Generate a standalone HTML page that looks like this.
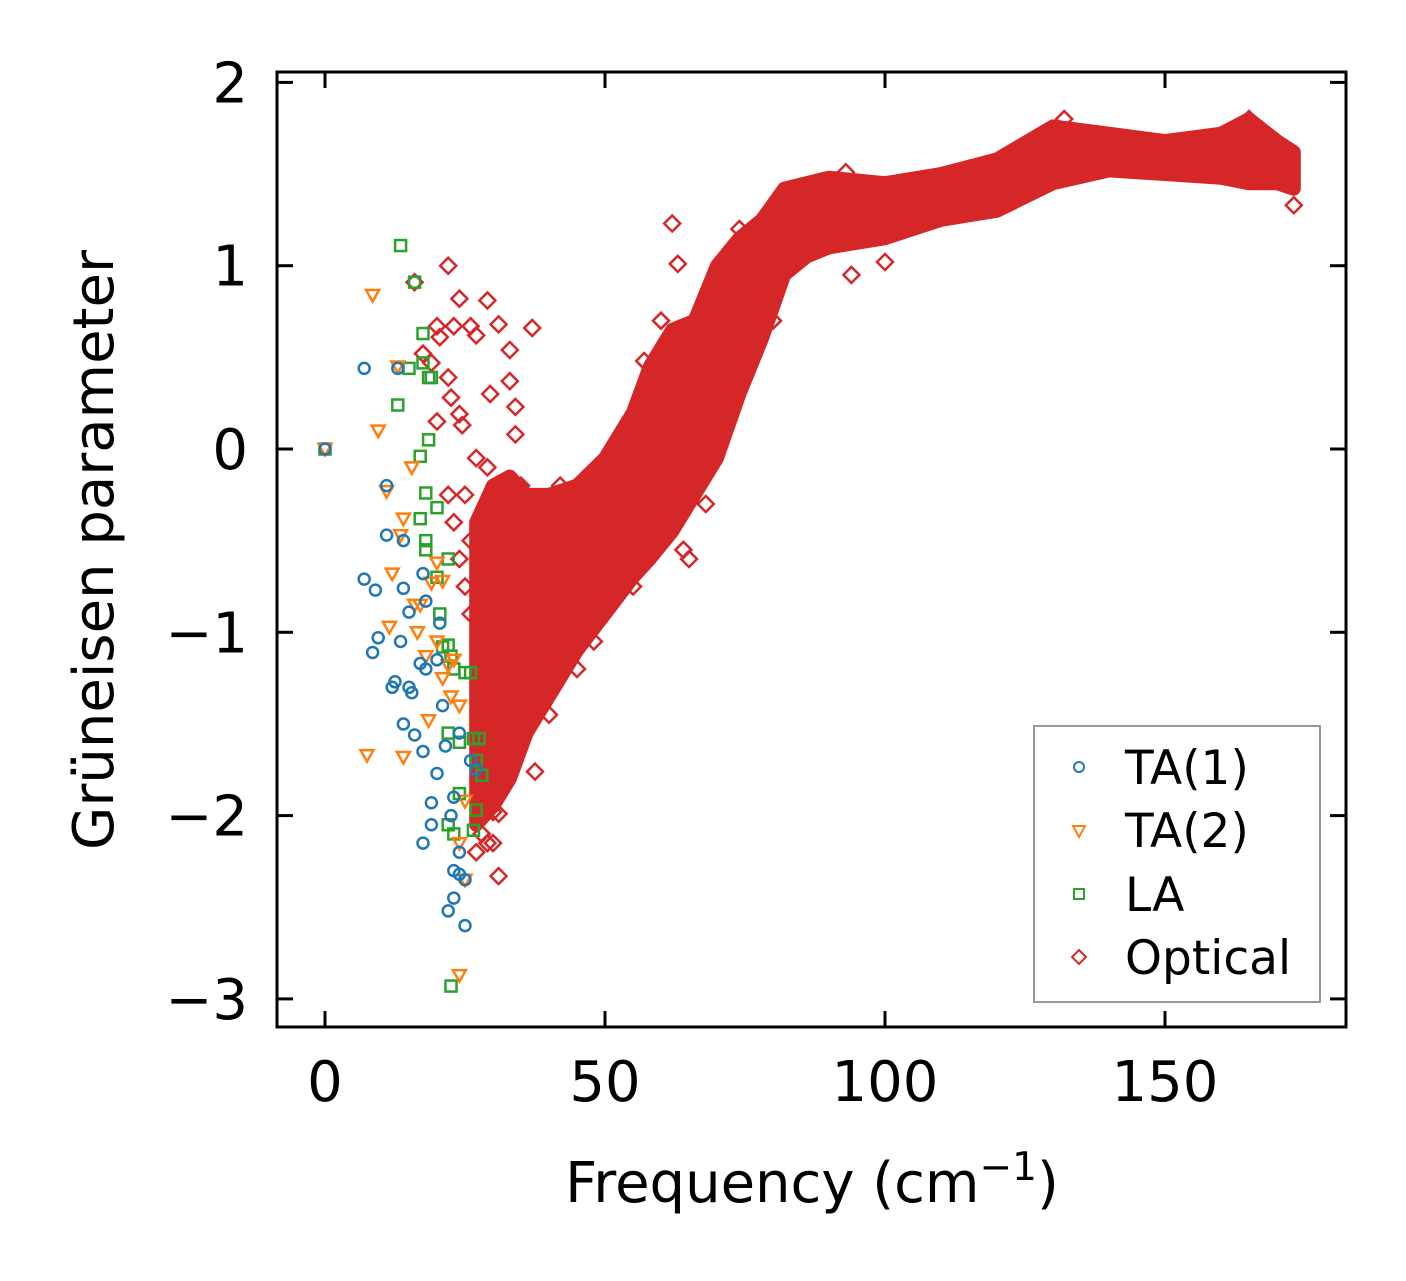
<!DOCTYPE html>
<html><head><meta charset="utf-8"><style>
body{margin:0;background:#fff;}
svg text{font-family:"DejaVu Sans","Liberation Sans",sans-serif;fill:#000;}
</style></head><body>
<svg id="chart" width="1406" height="1276" viewBox="0 0 1406 1276" xmlns="http://www.w3.org/2000/svg">
<rect width="1406" height="1276" fill="#fff"/>
<g id="marks"></g>
<rect x="277" y="72" width="1069" height="955" fill="none" stroke="#000" stroke-width="3"/>
<g id="axes"></g>
<text x="812" y="1202" font-size="56" text-anchor="middle">Frequency (cm<tspan font-size="39" dy="-22">−1</tspan><tspan dy="22">)</tspan></text>
<text transform="translate(113,550) rotate(-90)" font-size="56" text-anchor="middle">Grüneisen parameter</text>
<g>
<rect x="1034" y="726" width="286" height="276" fill="#fff" stroke="#999" stroke-width="2"/>
<circle cx="1079" cy="767" r="5" fill="none" stroke="#1f77b4" stroke-width="2"/>
<text x="1125" y="784" font-size="47">TA(1)</text>
<path d="M1073,826 L1085,826 L1079,837 Z" fill="none" stroke="#ff7f0e" stroke-width="2"/>
<text x="1125" y="847" font-size="47">TA(2)</text>
<rect x="1074" y="889" width="10" height="10" fill="none" stroke="#2ca02c" stroke-width="2"/>
<text x="1125" y="911" font-size="47">LA</text>
<path d="M1079,950 L1086,957 L1079,964 L1072,957 Z" fill="none" stroke="#d62728" stroke-width="2"/>
<text x="1125" y="974" font-size="47">Optical</text>
</g>
</svg>
<script>
const xTicks=[0,50,100,150];
const yTicks=[2,1,0,-1,-2,-3];
const yTickLabels=["2","1","0","−1","−2","−3"];
// optical dense band: frequency, lower and upper gamma envelope
const bandFreq=[27,30,33,36,40,45,50,55,58,62,66,70,74,78,82,86,90,100,110,120,130,140,150,160,165,170,173];
const bandLow=[-2.05,-1.95,-1.8,-1.55,-1.35,-1.1,-0.9,-0.7,-0.6,-0.45,-0.25,-0.05,0.3,0.6,0.95,1.05,1.1,1.15,1.25,1.3,1.45,1.52,1.5,1.48,1.45,1.45,1.42];
const bandHigh=[-0.4,-0.2,-0.15,-0.25,-0.25,-0.2,-0.05,0.2,0.45,0.65,0.7,1.0,1.15,1.25,1.42,1.45,1.48,1.45,1.5,1.58,1.76,1.72,1.68,1.72,1.8,1.68,1.62];
const opticalX=[22,24,29,16,23,26,27,31,37,20,20.5,17.5,19,22,22.5,24,24.5,20,29.5,33,33,34,34,62,63,93,100,94,31,37.5,30,31,25,27,29,35,38,42,26,28,30,36,40,45,48,55,60,65,68,75,80,85,27,29,132,165,173,22,23,24,25,26,57,60,72,74,64];
const opticalY=[1.0,0.82,0.81,0.91,0.67,0.67,0.62,0.68,0.66,0.67,0.61,0.52,0.47,0.39,0.28,0.19,0.13,0.15,0.3,0.37,0.54,0.23,0.08,1.23,1.01,1.51,1.02,0.95,-2.33,-1.76,-1.98,-1.99,-0.25,-0.05,-0.1,-0.2,-0.3,-0.2,-0.5,-2.1,-2.15,-1.45,-1.45,-1.2,-1.05,-0.75,-0.5,-0.6,-0.3,0.4,0.7,1.05,-2.2,-2.15,1.8,1.8,1.33,-0.25,-0.4,-0.6,-0.75,-0.9,0.48,0.7,1.0,1.2,-0.55];
const ta1X=[0,7,13,11,7,11,9,9.5,8.5,12,12.5,13.5,14,14,15,15,15.5,14,16,17,17.5,18,17.5,18,19,19,20,20,21,21.5,22,22.5,23,23,24,24,25,25,24,23,20.5,17.5,26,27];
const ta1Y=[0,0.44,0.44,-0.2,-0.71,-0.47,-0.77,-1.03,-1.11,-1.3,-1.27,-1.05,-0.76,-0.5,-0.89,-1.3,-1.33,-1.5,-1.56,-1.17,-0.68,-0.83,-1.65,-1.2,-1.93,-2.05,-1.15,-1.77,-1.4,-1.62,-2.52,-2.0,-2.3,-2.45,-2.2,-2.32,-2.6,-2.35,-1.55,-1.9,-0.95,-2.15,-1.7,-1.75];
const ta2X=[0,8.5,9.5,13,15.5,11,12,11.5,14,13.5,7.5,14,16,16.5,17,18,19,20,21,21,22,22.5,23,24,25,24,25,24,20,18.5];
const ta2Y=[0,0.84,0.1,0.45,-0.1,-0.23,-0.68,-0.97,-0.38,-0.47,-1.67,-1.68,-0.85,-1.0,-0.85,-1.13,-0.73,-1.05,-0.72,-1.25,-1.18,-1.35,-1.15,-1.4,-1.92,-2.15,-2.35,-2.87,-0.62,-1.48];
const laX=[0,13.5,16,13,15,17.5,17.5,19,18.5,18.5,17,17,18,18,18,20,20,20.5,21,22,22,22.5,23,25,26,22,24,26.5,27.5,27,28,27,26.5,24,22,23,22.5];
const laY=[0,1.11,0.91,0.24,0.44,0.63,0.47,0.39,0.39,0.05,-0.04,-0.38,-0.24,-0.5,-0.55,-0.32,-0.7,-0.9,-1.08,-0.6,-1.07,-1.13,-1.2,-1.22,-1.22,-1.55,-1.6,-1.58,-1.58,-1.7,-1.78,-1.97,-2.08,-1.88,-2.05,-2.1,-2.93];

const X0=325, XS=5.6, Y0=449, YS=183.3;
function sx(v){return X0+v*XS;}
function sy(v){return Y0-v*YS;}
const NS="http://www.w3.org/2000/svg";
const marks=document.getElementById('marks');
const axes=document.getElementById('axes');
function mk(tag,attrs,parent){const e=document.createElementNS(NS,tag);for(const k in attrs)e.setAttribute(k,attrs[k]);parent.appendChild(e);return e;}

let pts=[];
for(let i=0;i<bandFreq.length;i++)pts.push(sx(bandFreq[i])+','+sy(bandHigh[i]));
for(let i=bandFreq.length-1;i>=0;i--)pts.push(sx(bandFreq[i])+','+sy(bandLow[i]));
const band=mk('polygon',{points:pts.join(' '),fill:'#d62728',stroke:'#d62728','stroke-width':14,'stroke-linejoin':'round'},marks);



function diamond(x,y){const cx=sx(x),cy=sy(y);return `M${cx},${cy-8} L${cx+8},${cy} L${cx},${cy+8} L${cx-8},${cy} Z`;}
for(let i=0;i<opticalX.length;i++){
  const p=mk('path',{d:diamond(opticalX[i],opticalY[i]),fill:'none',stroke:'#d62728','stroke-width':2.5},marks);
  
  
}
for(let i=0;i<laX.length;i++){
  const p=mk('rect',{x:sx(laX[i])-5.5,y:sy(laY[i])-5.5,width:11,height:11,fill:'none',stroke:'#2ca02c','stroke-width':2.5},marks);
  
  
}
for(let i=0;i<ta2X.length;i++){
  const cx=sx(ta2X[i]),cy=sy(ta2Y[i]);
  const p=mk('path',{d:`M${cx-6.5},${cy-5} L${cx+6.5},${cy-5} L${cx},${cy+6.5} Z`,fill:'none',stroke:'#ff7f0e','stroke-width':2.5},marks);
  
  
}
for(let i=0;i<ta1X.length;i++){
  const p=mk('circle',{cx:sx(ta1X[i]),cy:sy(ta1Y[i]),r:5.5,fill:'none',stroke:'#1f77b4','stroke-width':2.5},marks);
  
  
}

xTicks.forEach(v=>{
  const x=sx(v);
  const t1=mk('line',{x1:x,x2:x,y1:1027,y2:1011,stroke:'#000','stroke-width':3},axes);
  
  
  const t2=mk('line',{x1:x,x2:x,y1:72,y2:88,stroke:'#000','stroke-width':3},axes);
  
  
  const l=mk('text',{x:x,y:1101,'font-size':56,'text-anchor':'middle'},axes);
  l.textContent=String(v);
  
  
});
yTicks.forEach((v,i)=>{
  const y=sy(v);
  const t1=mk('line',{x1:277,x2:293,y1:y,y2:y,stroke:'#000','stroke-width':3},axes);
  
  
  const t2=mk('line',{x1:1346,x2:1330,y1:y,y2:y,stroke:'#000','stroke-width':3},axes);
  
  
  const l=mk('text',{x:248,y:y+20,'font-size':56,'text-anchor':'end'},axes);
  l.textContent=yTickLabels[i];
  
  
});
</script>
</body></html>
